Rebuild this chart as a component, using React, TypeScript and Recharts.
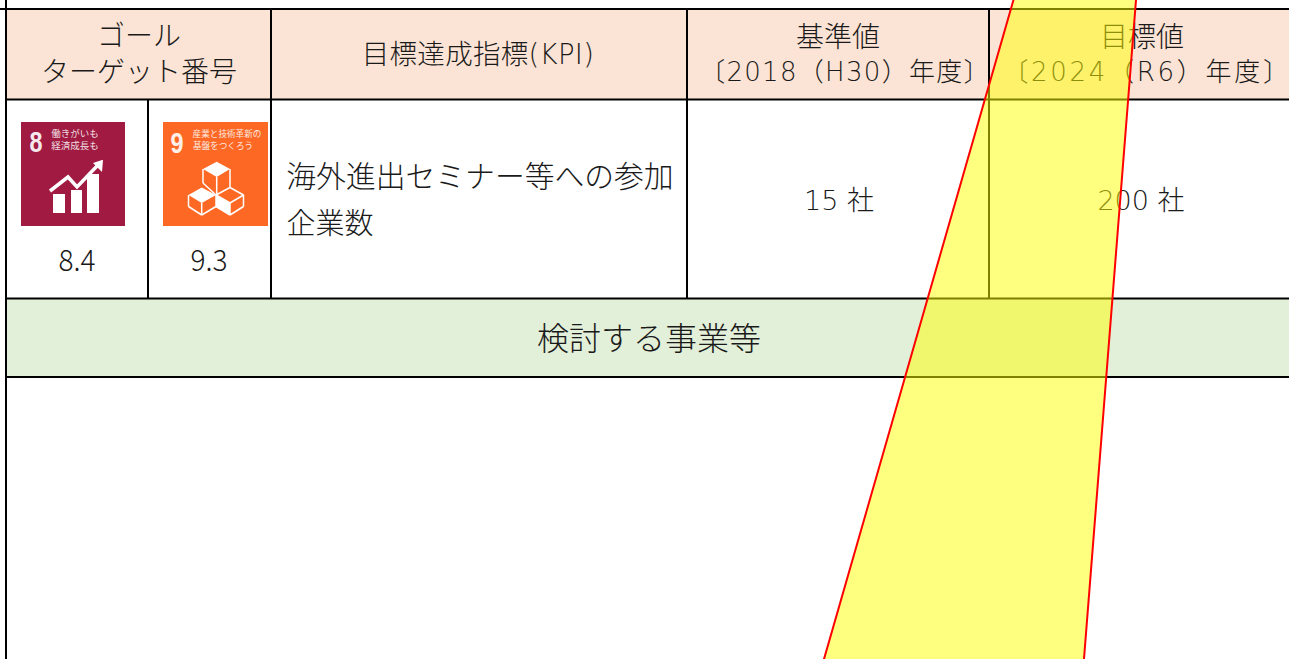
import React from 'react'
import { ComposedChart, XAxis, YAxis, Area, Line, ReferenceArea, ReferenceLine, ReferenceDot } from 'recharts'

const WIDTH = 1289
const HEIGHT = 659
const JP = '"Noto Sans CJK JP", sans-serif'
const LATIN_JP = '"DejaVu Sans", "Noto Sans CJK JP", sans-serif'
const SANS = '"Liberation Sans", sans-serif'

// cell fills: x1, x2, y1, y2, colour
const fills: [number, number, number, number, string][] = [
  [6, 1289, 9, 99, '#FBE4D5'],
  [6, 1289, 299, 377, '#E2EFD9'],
  [21, 125, 122, 226, '#A01A42'],
  [163, 268, 122, 226, '#FD6925'],
]

// table rules: x1, y1, x2, y2
const rules: [number, number, number, number][] = [
  [0, 9, 1289, 9],
  [6, 99.5, 1289, 99.5],
  [6, 298.5, 1289, 298.5],
  [6, 377, 1289, 377],
  [6, 0, 6, 659],
  [148, 100, 148, 298],
  [271, 9, 271, 298],
  [687, 9, 687, 298],
  [989, 9, 989, 298],
]

// table text: value, centre x, centre y, font size, font, letter spacing
const cellTexts: [string, number, number, number, string, number][] = [
  ['ゴール', 139, 36, 28, JP, 0],
  ['ターゲット番号', 139, 72, 28, JP, 0],
  ['目標達成指標(KPI)', 478, 54, 27.5, LATIN_JP, 0.3],
  ['基準値', 838, 37, 28, JP, 0],
  ['〔2018（H30）年度〕', 845, 72, 26, LATIN_JP, 1.3],
  ['目標値', 1142, 37, 28, JP, 0],
  ['〔2024（R6）年度〕', 1147, 72, 26, LATIN_JP, 2.7],
  ['海外進出セミナー等への参加', 480, 176, 29.8, JP, 0],
  ['企業数', 330, 224, 29, JP, 0],
  ['15 社', 839, 200, 27, LATIN_JP, 0],
  ['200 社', 1141, 200, 27, LATIN_JP, 0],
  ['検討する事業等', 649, 339, 32, JP, 0],
]

// target numbers under the icons: value, centre x
const targetNumbers: [string, number][] = [
  ['8.4', 77],
  ['9.3', 209],
]

// white captions on the two goal icons: value, x, y, size
const iconCaptions: [string, number, number, number][] = [
  ['働きがいも', 75, 134, 9.5],
  ['経済成長も', 75, 146, 9.5],
  ['産業と技術革新の', 227, 134, 8.6],
  ['基盤をつくろう', 223, 146, 8.6],
]

// goal numbers on the icons: value, x, y
const goalNumbers: [string, number, number][] = [
  ['8', 36, 141],
  ['9', 177, 142],
]

// goal 8 pictogram
const goalBars: [number, number, number, number][] = [
  [53, 65, 194, 213],
  [71, 82, 190, 213],
  [87, 99, 174, 213],
]
const goalArrow = [
  { x: 50, y: 191 },
  { x: 68, y: 177 },
  { x: 77, y: 187 },
  { x: 98, y: 165 },
]
const goalArrowHead = [
  { x: 93, range: [163, 163] },
  { x: 102, range: [160, 172] },
  { x: 103, range: [160, 160] },
]

// goal 9 pictogram
const cubeFaces = [
  [
    { x: 203, range: [169, 169] },
    { x: 216.7, range: [161.7, 177] },
    { x: 230, range: [169, 169] },
  ],
  [
    { x: 188.5, range: [195, 195] },
    { x: 201.7, range: [187.5, 203] },
    { x: 216, range: [195, 195] },
  ],
  [
    { x: 216, range: [195, 206.5] },
    { x: 230, range: [203, 215] },
  ],
]
const cubeLines: [number, number, number, number][] = [
  [203, 169, 203, 183],
  [216.7, 177, 216.7, 195],
  [230, 169, 230, 187.5],
  [203, 183, 216, 195],
  [188.5, 195, 188.5, 206.5],
  [188.5, 206.5, 201.7, 215],
  [201.7, 203, 201.7, 215],
  [201.7, 215, 216, 206.5],
  [216, 195, 216, 206.5],
  [216, 195, 230, 187.5],
  [230, 187.5, 243.5, 195],
  [243.5, 195, 243.5, 206.5],
  [243.5, 206.5, 230, 215],
  [243.5, 195, 230, 203],
  [230, 203, 216, 195],
  [230, 203, 230, 215],
  [216, 206.5, 230, 215],
]

// highlighted band laid over the table
const band = [
  { x: 822.3, range: [665, 665] },
  { x: 1014.9, range: [-5, 665] },
  { x: 1083.5, range: [-5, 665] },
  { x: 1136.4, range: [-5, -5] },
]

export default function App() {
  return (
    <div style={{ position: 'absolute', left: 0, top: 0, width: WIDTH, height: HEIGHT, background: '#fff' }}>
      <ComposedChart width={WIDTH} height={HEIGHT} margin={{ top: 0, right: 0, bottom: 0, left: 0 }}>
        <XAxis type="number" dataKey="x" domain={[0, WIDTH]} hide allowDataOverflow />
        <YAxis type="number" domain={[0, HEIGHT]} reversed hide allowDataOverflow />

        {fills.map(([x1, x2, y1, y2, fill], i) => (
          <ReferenceArea key={`f${i}`} x1={x1} x2={x2} y1={y1} y2={y2} fill={fill} fillOpacity={1} stroke="none" />
        ))}
        {rules.map(([x1, y1, x2, y2], i) => (
          <ReferenceLine key={`r${i}`} segment={[{ x: x1, y: y1 }, { x: x2, y: y2 }]} stroke="#000" strokeWidth={2} />
        ))}

        {goalBars.map(([x1, x2, y1, y2], i) => (
          <ReferenceArea key={`b${i}`} x1={x1} x2={x2} y1={y1} y2={y2} fill="#fff" fillOpacity={1} stroke="none" />
        ))}
        <Line data={goalArrow} dataKey="y" stroke="#fff" strokeWidth={3.5} dot={false} activeDot={false} isAnimationActive={false} />
        <Area data={goalArrowHead} dataKey="range" type="linear" fill="#fff" fillOpacity={1} stroke="none" dot={false} activeDot={false} isAnimationActive={false} />

        {cubeFaces.map((face, i) => (
          <Area key={`c${i}`} data={face} dataKey="range" type="linear" fill="#fff" fillOpacity={1} stroke="none" dot={false} activeDot={false} isAnimationActive={false} />
        ))}
        {cubeLines.map(([x1, y1, x2, y2], i) => (
          <ReferenceLine key={`l${i}`} segment={[{ x: x1, y: y1 }, { x: x2, y: y2 }]} stroke="#fff" strokeWidth={1.5} />
        ))}

        {goalNumbers.map(([value, x, y], i) => (
          <ReferenceDot
            key={`g${i}`}
            x={x}
            y={y}
            r={0}
            stroke="none"
            label={{ value, position: 'center', fontSize: 30, fontWeight: 700, fill: '#fff', fontFamily: SANS, opacity: 0.9, textLength: 13, lengthAdjust: 'spacingAndGlyphs' }}
          />
        ))}
        {iconCaptions.map(([value, x, y, fontSize], i) => (
          <ReferenceDot
            key={`i${i}`}
            x={x}
            y={y}
            r={0}
            stroke="none"
            label={{ value, position: 'center', fontSize, fill: '#fff', fontFamily: JP, opacity: 0.85 }}
          />
        ))}
        {targetNumbers.map(([value, x], i) => (
          <ReferenceDot
            key={`n${i}`}
            x={x}
            y={260}
            r={0}
            stroke="none"
            label={{ value, position: 'center', fontSize: 30, fontWeight: 200, fill: '#1a1a1a', fontFamily: JP, textLength: 37, lengthAdjust: 'spacingAndGlyphs' }}
          />
        ))}
        {cellTexts.map(([value, x, y, fontSize, fontFamily, letterSpacing], i) => (
          <ReferenceDot
            key={`t${i}`}
            x={x}
            y={y}
            r={0}
            stroke="none"
            label={{ value, position: 'center', fontSize, fontWeight: 200, fill: '#1a1a1a', fontFamily, letterSpacing }}
          />
        ))}

        <Area
          data={band}
          dataKey="range"
          type="linear"
          fill="#ffff00"
          fillOpacity={0.5}
          stroke="#ff0000"
          strokeWidth={2}
          dot={false}
          activeDot={false}
          isAnimationActive={false}
          zIndex={5000}
        />
      </ComposedChart>
    </div>
  )
}
